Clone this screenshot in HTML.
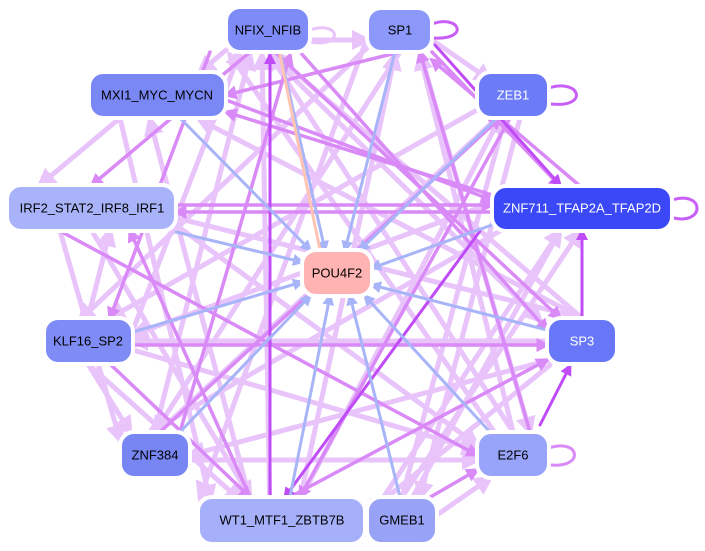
<!DOCTYPE html>
<html><head><meta charset="utf-8"><style>
html,body{margin:0;padding:0;background:#fff;}
svg{display:block;}
text{font-family:"Liberation Sans",sans-serif;font-size:13px;text-anchor:middle;dominant-baseline:central;}
</style></head><body>
<svg width="705" height="551" viewBox="0 0 705 551" xmlns="http://www.w3.org/2000/svg">
<defs>
<marker id="a1" markerWidth="4" markerHeight="4" refX="3" refY="2" orient="auto" markerUnits="strokeWidth"><path d="M0,0L4,2L0,4z" fill="#e8c4fb"/></marker>
<marker id="a2" markerWidth="4" markerHeight="4" refX="3" refY="2" orient="auto" markerUnits="strokeWidth"><path d="M0,0L4,2L0,4z" fill="#d98af6"/></marker>
<marker id="a3" markerWidth="4" markerHeight="4" refX="3" refY="2" orient="auto" markerUnits="strokeWidth"><path d="M0,0L4,2L0,4z" fill="#c04cf8"/></marker>
<marker id="a4" markerWidth="4" markerHeight="4" refX="3" refY="2" orient="auto" markerUnits="strokeWidth"><path d="M0,0L4,2L0,4z" fill="#a8b4f8"/></marker>
</defs>
<g fill="none" stroke-linecap="round">
<g stroke="#e8c4fb" stroke-width="5" marker-end="url(#a1)">
<line x1="270" y1="520" x2="262" y2="55"/>
<line x1="300" y1="500" x2="395" y2="55"/>
<line x1="250" y1="500" x2="150" y2="120"/>
<line x1="92" y1="231" x2="250" y2="497"/>
<line x1="88" y1="364" x2="240" y2="500"/>
<line x1="155" y1="432" x2="250" y2="55"/>
<line x1="513" y1="432" x2="420" y2="55"/>
<line x1="513" y1="432" x2="270" y2="55"/>
<line x1="582" y1="318" x2="275" y2="55"/>
<line x1="582" y1="318" x2="200" y2="120"/>
<line x1="582" y1="318" x2="160" y2="214"/>
<line x1="547" y1="341" x2="133" y2="341"/>
<line x1="550" y1="360" x2="190" y2="455"/>
<line x1="550" y1="365" x2="365" y2="515"/>
<line x1="402" y1="497" x2="505" y2="118"/>
<line x1="402" y1="497" x2="580" y2="231"/>
<line x1="365" y1="525" x2="560" y2="231"/>
<line x1="300" y1="500" x2="500" y2="118"/>
<line x1="420" y1="52" x2="530" y2="432"/>
<line x1="432" y1="40" x2="490" y2="80"/>
<line x1="310" y1="40" x2="367" y2="40"/>
<line x1="226" y1="50" x2="200" y2="72"/>
<line x1="400" y1="52" x2="155" y2="432"/>
<line x1="370" y1="45" x2="80" y2="320"/>
<line x1="477" y1="110" x2="110" y2="318"/>
<line x1="497" y1="118" x2="150" y2="440"/>
<line x1="520" y1="118" x2="420" y2="497"/>
<line x1="60" y1="231" x2="120" y2="440"/>
<line x1="88" y1="318" x2="110" y2="231"/>
<line x1="120" y1="118" x2="40" y2="185"/>
<line x1="133" y1="350" x2="477" y2="450"/>
<line x1="88" y1="364" x2="130" y2="432"/>
<line x1="190" y1="460" x2="477" y2="460"/>
<line x1="437" y1="515" x2="490" y2="478"/>
<line x1="176" y1="225" x2="477" y2="445"/>
<line x1="120" y1="118" x2="210" y2="500"/>
<line x1="370" y1="30" x2="200" y2="497"/>
<line x1="500" y1="440" x2="230" y2="55"/>
<line x1="560" y1="231" x2="400" y2="520"/>
<line x1="500" y1="231" x2="150" y2="432"/>
<line x1="500" y1="200" x2="133" y2="335"/>
<line x1="270" y1="55" x2="540" y2="320"/>
<line x1="133" y1="330" x2="240" y2="52"/>
</g>
<g stroke="#d98af6" stroke-width="3.5" marker-end="url(#a2)">
<line x1="275" y1="52" x2="560" y2="318"/>
<line x1="300" y1="52" x2="547" y2="330"/>
<line x1="226" y1="100" x2="492" y2="200"/>
<line x1="492" y1="195" x2="226" y2="112"/>
<line x1="176" y1="205" x2="492" y2="205"/>
<line x1="492" y1="212" x2="176" y2="212"/>
<line x1="400" y1="52" x2="226" y2="95"/>
<line x1="250" y1="52" x2="92" y2="185"/>
<line x1="510" y1="118" x2="300" y2="497"/>
<line x1="60" y1="231" x2="477" y2="455"/>
<line x1="133" y1="345" x2="547" y2="345"/>
<line x1="160" y1="432" x2="500" y2="118"/>
<line x1="250" y1="497" x2="130" y2="231"/>
<line x1="210" y1="52" x2="110" y2="318"/>
<line x1="290" y1="497" x2="547" y2="360"/>
<line x1="365" y1="535" x2="477" y2="470"/>
<line x1="530" y1="432" x2="420" y2="52"/>
<line x1="432" y1="52" x2="560" y2="186"/>
<line x1="580" y1="186" x2="432" y2="60"/>
<line x1="180" y1="432" x2="290" y2="55"/>
<line x1="110" y1="364" x2="250" y2="497"/>
</g>
<g stroke="#c04cf8" stroke-width="3" marker-end="url(#a3)">
<line x1="582" y1="318" x2="582" y2="231"/>
<line x1="480" y1="231" x2="285" y2="497"/>
<line x1="540" y1="425" x2="570" y2="366"/>
<line x1="270" y1="497" x2="270" y2="55"/>
<line x1="435" y1="45" x2="560" y2="185"/>
</g>
<g stroke="#a8b4f8" stroke-width="3" marker-end="url(#a4)">
<line x1="280" y1="52" x2="325" y2="250"/>
<line x1="395" y1="52" x2="345" y2="250"/>
<line x1="497" y1="118" x2="360" y2="250"/>
<line x1="492" y1="225" x2="372" y2="268"/>
<line x1="547" y1="330" x2="372" y2="285"/>
<line x1="490" y1="432" x2="365" y2="296"/>
<line x1="400" y1="497" x2="350" y2="296"/>
<line x1="290" y1="497" x2="330" y2="296"/>
<line x1="180" y1="432" x2="310" y2="296"/>
<line x1="133" y1="332" x2="302" y2="282"/>
<line x1="176" y1="232" x2="302" y2="262"/>
<line x1="180" y1="118" x2="310" y2="250"/>
</g>
<line x1="320" y1="250" x2="280" y2="55" stroke="#ffc4b4" stroke-width="3"/>
<path d="M432,24 C460,14 470,40 434,38" stroke="#c860f8" stroke-width="3"/>
<path d="M549,88 C580,78 590,108 551,104" stroke="#c860f8" stroke-width="3"/>
<path d="M672,200 C705,190 705,225 674,218" stroke="#c860f8" stroke-width="3"/>
<path d="M549,448 C580,438 585,468 551,465" stroke="#d98af6" stroke-width="3"/>
<path d="M310,30 C340,20 345,48 310,42" stroke="#e8c4fb" stroke-width="3"/>
</g>
<g stroke="#ffffff" stroke-width="4">
<rect x="226" y="7" width="84" height="45" rx="14" fill="#7f8cf8"/>
<rect x="367" y="8" width="65" height="44" rx="14" fill="#8c98fa"/>
<rect x="89" y="72" width="137" height="46" rx="14" fill="#7a88f6"/>
<rect x="477" y="72" width="72" height="46" rx="14" fill="#6c7bf8"/>
<rect x="7" y="185" width="169" height="46" rx="14" fill="#a9b3fa"/>
<rect x="492" y="186" width="180" height="45" rx="14" fill="#3a48f8"/>
<rect x="302" y="250" width="70" height="46" rx="14" fill="#ffb3b3"/>
<rect x="44" y="318" width="89" height="46" rx="14" fill="#7f8cf6"/>
<rect x="547" y="318" width="70" height="46" rx="14" fill="#6777f8"/>
<rect x="120" y="432" width="70" height="46" rx="14" fill="#7886f4"/>
<rect x="477" y="432" width="72" height="46" rx="14" fill="#98a4fa"/>
<rect x="198" y="497" width="167" height="47" rx="14" fill="#a6b0fa"/>
<rect x="367" y="497" width="70" height="47" rx="14" fill="#98a3f8"/>
</g>
<g fill="#000">
<text x="268" y="30">NFIX_NFIB</text>
<text x="400" y="30">SP1</text>
<text x="157" y="95">MXI1_MYC_MYCN</text>
<text x="513" y="95" fill="#fff">ZEB1</text>
<text x="92" y="208">IRF2_STAT2_IRF8_IRF1</text>
<text x="582" y="208" fill="#fff">ZNF711_TFAP2A_TFAP2D</text>
<text x="337" y="273">POU4F2</text>
<text x="88" y="341">KLF16_SP2</text>
<text x="582" y="341" fill="#fff">SP3</text>
<text x="155" y="455">ZNF384</text>
<text x="513" y="455">E2F6</text>
<text x="282" y="520">WT1_MTF1_ZBTB7B</text>
<text x="402" y="520">GMEB1</text>
</g>
</svg>
</body></html>
